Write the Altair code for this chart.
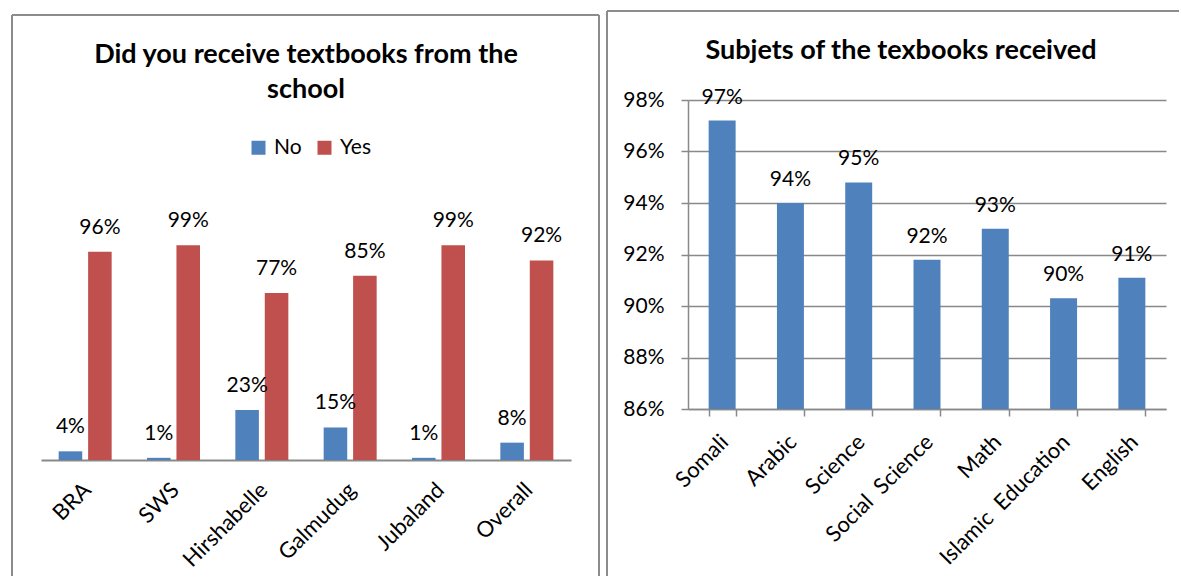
import altair as alt
import pandas as pd

# ---------------- data ----------------
regions = ["BRA", "SWS", "Hirshabelle", "Galmudug", "Jubaland", "Overall"]
no_vals = [4, 1, 23, 15, 1, 8]
yes_vals = [96, 99, 77, 85, 99, 92]
series = ["No", "Yes"]
series_colors = ["#4F81BD", "#C0504D"]
left_title = ["Did you receive textbooks from the", "school"]

subjects = ["Somali", "Arabic", "Science", "Social\u00a0 Science", "Math",
            "Islamic\u00a0 Education", "English"]
subject_vals = [97.2, 94.0, 94.8, 91.8, 93.0, 90.3, 91.1]
y_ticks = [86, 88, 90, 92, 94, 96, 98]
right_title = "Subjets of the texbooks received"

FONT = "Lato"
GRAY = "#898989"
BORDER = "#8c8c8c"
BLUE = "#4F81BD"

left_df = pd.DataFrame({
    "region": regions * 2,
    "series": ["No"] * len(regions) + ["Yes"] * len(regions),
    "value": no_vals + yes_vals,
})
right_df = pd.DataFrame({"subject": subjects, "value": subject_vals})

one = alt.Data(values=[{}])


def vrule(x, y1, y2):
    return alt.Chart(one).mark_rule(color=BORDER, strokeWidth=2).encode(
        x=alt.value(x), y=alt.value(y1), y2=alt.value(y2))


def hrule(y, x1, x2):
    return alt.Chart(one).mark_rule(color=BORDER, strokeWidth=2).encode(
        y=alt.value(y), x=alt.value(x1), x2=alt.value(x2))


# ---------------- left chart ----------------
x_left = alt.X("region:N", sort=regions, title=None,
               scale=alt.Scale(paddingInner=0.4, paddingOuter=0.2),
               axis=alt.Axis(labelAngle=-45, labelAlign="right", labelBaseline="top",
                             labelPadding=19, labelOffset=-5, ticks=False,
                             domainColor=GRAY, domainWidth=2, labelFontSize=22,
                             labelColor="black", labelFont=FONT))
y_left = alt.Y("value:Q", scale=alt.Scale(domain=[0, 166], nice=False), axis=None)
xoff = alt.XOffset("series:N", sort=series,
                   scale=alt.Scale(paddingInner=0.2, paddingOuter=0))
color = alt.Color("series:N", sort=series,
                  scale=alt.Scale(domain=series, range=series_colors),
                  legend=alt.Legend(orient="none", legendX=207, legendY=37,
                                    direction="horizontal", title=None,
                                    symbolType="square", symbolSize=196,
                                    symbolStrokeWidth=0, labelFontSize=21,
                                    labelFont=FONT, labelColor="black",
                                    labelOffset=5, columnPadding=12, padding=0))

left_base = alt.Chart(left_df)
left_bars = left_base.mark_bar().encode(x=x_left, xOffset=xoff, y=y_left, color=color)
left_text = left_base.transform_calculate(label="datum.value + '%'").mark_text(
    dy=-18, baseline="alphabetic", fontSize=21, font=FONT, color="black"
).encode(x=x_left, xOffset=xoff, y=y_left, text="label:N")
left_title_mark = alt.Chart(one).mark_text(
    font=FONT, fontSize=27, fontWeight="bold", align="center",
    baseline="alphabetic", lineHeight=35, color="black"
).encode(x=alt.value(265), y=alt.value(-37), text=alt.value(left_title))

left = alt.layer(
    left_bars, left_text, left_title_mark,
    vrule(-29, -85, 476), hrule(-85, -29, 558), vrule(558, -85, 476),
).properties(width=530, height=360)

# ---------------- right chart ----------------
x_right = alt.X("subject:N", sort=subjects, title=None,
                scale=alt.Scale(paddingInner=0.605, paddingOuter=0.3025),
                axis=alt.Axis(labelAngle=-45, labelAlign="right", labelBaseline="top",
                              labelPadding=15, labelOffset=-5, tickBand="extent",
                              tickSize=7, tickColor=GRAY, tickWidth=1.5,
                              domainColor=GRAY, domainWidth=1.5, labelFontSize=22,
                              labelColor="black", labelFont=FONT))
y_right = alt.Y("value:Q", title=None,
                scale=alt.Scale(domain=[86, 98], nice=False, zero=False),
                axis=alt.Axis(values=y_ticks, labelExpr="datum.value + '%'",
                              grid=True, gridColor=GRAY, gridWidth=1.5,
                              tickSize=7, tickColor=GRAY, tickWidth=1.5,
                              domainColor=GRAY, domainWidth=1.5, labelPadding=17,
                              labelFontSize=21, labelColor="black", labelFont=FONT))

right_base = alt.Chart(right_df)
right_bars = right_base.mark_bar(color=BLUE).encode(
    x=x_right, y=y_right, y2=alt.Y2(datum=86))
right_text = right_base.transform_calculate(
    label="round(datum.value) + '%'"
).mark_text(dy=-17, baseline="alphabetic", fontSize=21, font=FONT, color="black").encode(
    x=x_right, y=y_right, text="label:N")
right_title_mark = alt.Chart(one).mark_text(
    font=FONT, fontSize=27, fontWeight="bold", align="center",
    baseline="alphabetic", color="black"
).encode(x=alt.value(213), y=alt.value(-41), text=alt.value(right_title))

right = alt.layer(
    right_bars, right_text, right_title_mark,
    vrule(-81, -89, 476), hrule(-89, -81, 491),
).properties(width=478, height=309)

chart = alt.hconcat(left, right, spacing=117, bounds="flush").properties(
    padding={"left": 11, "top": 10, "right": 0, "bottom": 0}
).configure(font=FONT).configure_view(stroke=None)

chart.save("out.html", embed_options={"renderer": "svg", "actions": False})
